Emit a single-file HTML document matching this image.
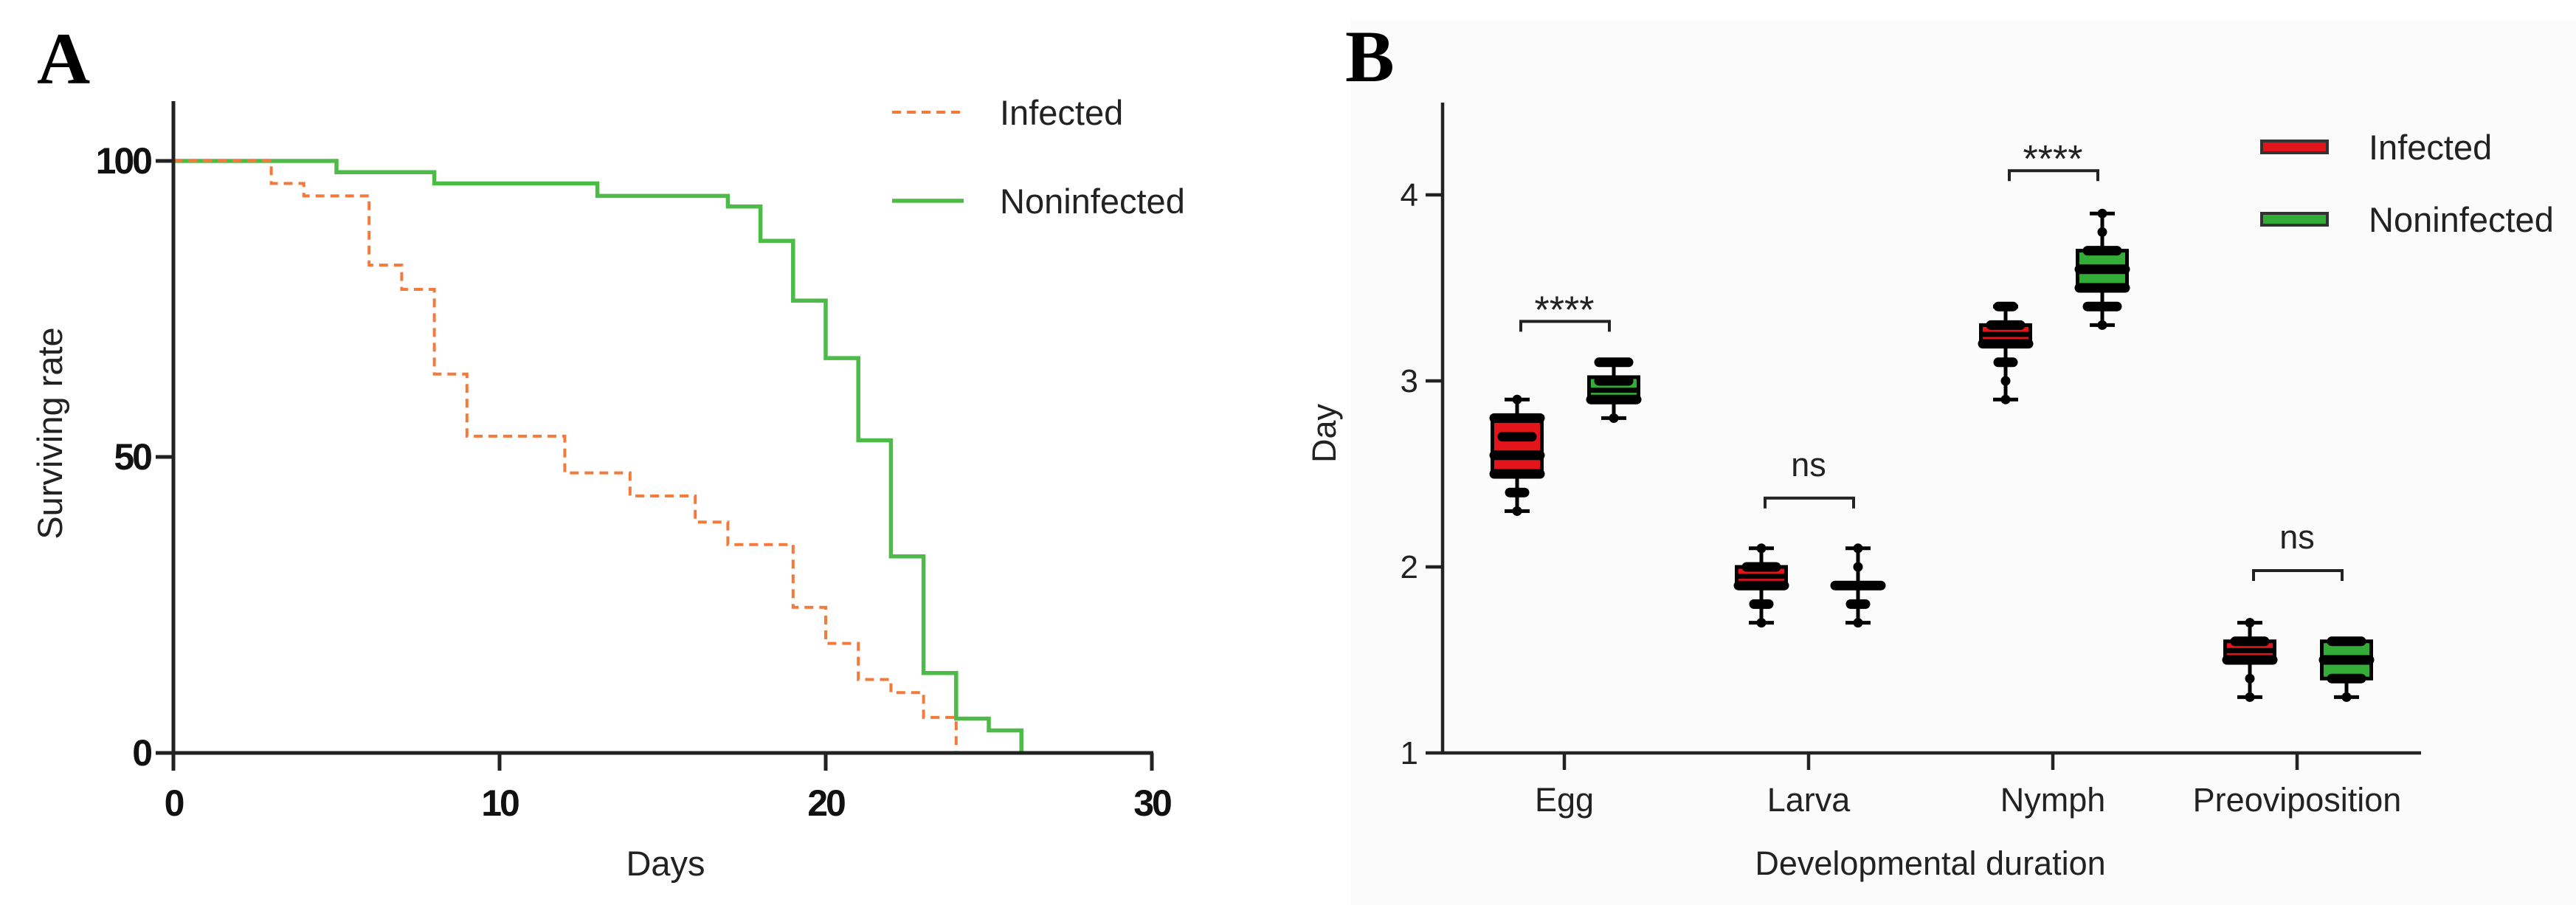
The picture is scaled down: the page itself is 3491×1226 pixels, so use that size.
<!DOCTYPE html>
<html><head><meta charset="utf-8"><style>
html,body{margin:0;padding:0;background:#fff;overflow:hidden}
svg{display:block}
text{font-family:"Liberation Sans",sans-serif}
text.serif{font-family:"Liberation Serif",serif}
</style></head><body>
<svg id="fig" width="3491" height="1226" viewBox="0 0 3491 1226" xmlns="http://www.w3.org/2000/svg">
<rect x="0" y="0" width="3491" height="1226" fill="#ffffff"/>
<rect x="1830" y="28" width="1661" height="1198" fill="#fbfbfb"/>
<g id="pa"></g>
<g id="pb"></g>
</svg>
<script>
// ---------- Panel A data ----------
const aDaysInf = [0,3,4,6,7,8,9,12,14,16,17,19,20,21,22,23,24];
const aSurvInf = [100,96.2,94.1,82.4,78.3,64,53.5,47.3,43.4,39,35.2,24.6,18.5,12.4,10.2,6,0];
const aDaysNon = [0,5,8,13,17,18,19,20,21,22,23,24,25,26];
const aSurvNon = [100,98.1,96.2,94.1,92.3,86.5,76.4,66.7,52.8,33.2,13.5,5.8,3.8,0];
const aXTicks = [0,10,20,30];
const aYTicks = [0,50,100];

// ---------- Panel B data ----------
const bCategories = ["Egg","Larva","Nymph","Preoviposition"];
const bInfMin = [2.3,1.7,2.9,1.3];
const bInfQ1  = [2.5,1.9,3.2,1.5];
const bInfMed = [2.6,1.95,3.25,1.55];
const bInfQ3  = [2.8,2.0,3.3,1.6];
const bInfMax = [2.9,2.1,3.4,1.7];
const bNonMin = [2.8,1.7,3.3,1.3];
const bNonQ1  = [2.9,1.9,3.5,1.4];
const bNonMed = [2.95,1.9,3.6,1.5];
const bNonQ3  = [3.02,1.9,3.7,1.6];
const bNonMax = [3.1,2.1,3.9,1.6];
const bInfPts = [[2.3,2.4,2.5,2.6,2.7,2.8,2.9],[1.7,1.8,1.9,2.0,2.1],[2.9,3.0,3.1,3.2,3.3,3.4],[1.3,1.4,1.5,1.6,1.7]];
const bNonPts = [[2.8,2.9,3.0,3.1],[1.7,1.8,1.9,2.0,2.1],[3.3,3.4,3.5,3.6,3.7,3.8,3.9],[1.3,1.4,1.5,1.6]];
const bInfRowW = [[1,2,4,4,3,4,1],[1,2,4,3,1],[1,1,2,4,3,2],[1,1,4,3,1]];
const bNonRowW = [[1,4,3,3],[1,2,4,1,1],[1,3,4,4,3,1,1],[1,3,4,3]];
const bSigLabels = ["****","ns","****","ns"];
const bSigLevels = [3.32,2.37,4.13,1.98];
const bYTicks = [1,2,3,4];

const NS="http://www.w3.org/2000/svg";
function mk(parent,tag,attrs,txt){const e=document.createElementNS(NS,tag);for(const k in attrs)e.setAttribute(k,attrs[k]);if(txt!==undefined)e.textContent=txt;parent.appendChild(e);return e;}

// ---------- Panel A ----------
const pa=document.getElementById('pa');
const ax=d=>235+(d/30)*(1561-235);
const ay=v=>1020-(v/100)*(1020-218);
let t=mk(pa,'text',{x:50,y:113,'font-size':100,'font-weight':'bold','class':'serif'},'A');


function stepPath(xs,ys){let d=`M${ax(xs[0])},${ay(ys[0])}`;for(let i=1;i<xs.length;i++){d+=` H${ax(xs[i])} V${ay(ys[i])}`;}return d;}
let p=mk(pa,'path',{d:stepPath(aDaysNon,aSurvNon),fill:'none',stroke:'#4cbb47','stroke-width':5.5});


p=mk(pa,'path',{d:stepPath(aDaysInf,aSurvInf),fill:'none',stroke:'#f47a3c','stroke-width':4,'stroke-dasharray':'12,8'});


let l=mk(pa,'line',{x1:235,y1:137,x2:235,y2:1020,stroke:'#222','stroke-width':5});


l=mk(pa,'line',{x1:235,y1:1020,x2:1563,y2:1020,stroke:'#222','stroke-width':5});


aYTicks.forEach(v=>{
  const y=ay(v);
  mk(pa,'line',{x1:211,y1:y,x2:235,y2:y,stroke:'#222','stroke-width':5});
  const tt=mk(pa,'text',{x:204,y:y+17,'font-size':50,'font-weight':'bold','text-anchor':'end',fill:'#111','letter-spacing':-3},String(v));
  
  
});
aXTicks.forEach(v=>{
  const x=ax(v);
  mk(pa,'line',{x1:x,y1:1020,x2:x,y2:1044,stroke:'#222','stroke-width':5});
  const tt=mk(pa,'text',{x:x,y:1105,'font-size':50,'font-weight':'bold','text-anchor':'middle',fill:'#111','letter-spacing':-3},String(v));
  
  
});
t=mk(pa,'text',{x:902,y:1186,'font-size':47,'text-anchor':'middle',fill:'#222'},'Days');


t=mk(pa,'text',{x:0,y:0,'font-size':47,'text-anchor':'middle',fill:'#222',transform:'translate(84,587) rotate(-90)'},'Surviving rate');


l=mk(pa,'line',{x1:1209,y1:152,x2:1306,y2:152,stroke:'#f47a3c','stroke-width':4,'stroke-dasharray':'12,8'});


t=mk(pa,'text',{x:1355,y:169,'font-size':47,fill:'#222'},'Infected');


l=mk(pa,'line',{x1:1209,y1:272,x2:1306,y2:272,stroke:'#4cbb47','stroke-width':5.5});


t=mk(pa,'text',{x:1355,y:289,'font-size':47,fill:'#222'},'Noninfected');



// ---------- Panel B ----------
const pb=document.getElementById('pb');
const by=v=>1020-(v-1)*252;
const bx=i=>2120+i*331;
t=mk(pb,'text',{x:1823,y:110,'font-size':100,'font-weight':'bold','class':'serif'},'B');


l=mk(pb,'line',{x1:1955,y1:139,x2:1955,y2:1020,stroke:'#222','stroke-width':4.5});


l=mk(pb,'line',{x1:1955,y1:1020,x2:3281,y2:1020,stroke:'#222','stroke-width':4.5});


bYTicks.forEach(v=>{
  const y=by(v);
  mk(pb,'line',{x1:1932,y1:y,x2:1955,y2:y,stroke:'#222','stroke-width':4.5});
  const tt=mk(pb,'text',{x:1922,y:y+15,'font-size':44,'text-anchor':'end',fill:'#222'},String(v));
  
  
});
function drawBox(cx,mn,q1,md,q3,mx,pts,rw,color,name){
  const g=mk(pb,'g',{});
  
  
  const w=67;
  mk(g,'line',{x1:cx,y1:by(mx),x2:cx,y2:by(mn),stroke:'#000','stroke-width':5});
  mk(g,'line',{x1:cx-17,y1:by(mx),x2:cx+17,y2:by(mx),stroke:'#000','stroke-width':5});
  mk(g,'line',{x1:cx-17,y1:by(mn),x2:cx+17,y2:by(mn),stroke:'#000','stroke-width':5});
  mk(g,'rect',{x:cx-w/2,y:by(q3),width:w,height:Math.max(by(q1)-by(q3),2),fill:color,stroke:'#000','stroke-width':5});
  mk(g,'line',{x1:cx-w/2,y1:by(md),x2:cx+w/2,y2:by(md),stroke:'#000','stroke-width':7});
  pts.forEach((v,k)=>{
    const n=rw[k];const half=n>1?(n===2?10:(n===3?20:31)):0;
    mk(g,'line',{x1:cx-half,y1:by(v),x2:cx+half,y2:by(v),stroke:'#000','stroke-width':13,'stroke-linecap':'round'});
  });
}
bCategories.forEach((c,i)=>{
  const x=bx(i);
  mk(pb,'line',{x1:x,y1:1020,x2:x,y2:1043,stroke:'#222','stroke-width':4.5});
  const tt=mk(pb,'text',{x:x,y:1099,'font-size':45,'text-anchor':'middle',fill:'#222'},c);
  
  
  drawBox(x-64,bInfMin[i],bInfQ1[i],bInfMed[i],bInfQ3[i],bInfMax[i],bInfPts[i],bInfRowW[i],'#e3151a','box-infected');
  drawBox(x+67,bNonMin[i],bNonQ1[i],bNonMed[i],bNonQ3[i],bNonMax[i],bNonPts[i],bNonRowW[i],'#34ad38','box-noninfected');
  const sy=by(bSigLevels[i]);
  const br=mk(pb,'path',{d:`M${x-59},${sy+14} V${sy} H${x+61} V${sy+14}`,fill:'none',stroke:'#222','stroke-width':4});
  
  
  const isNs=bSigLabels[i]==='ns';
  const st=mk(pb,'text',{x:x,y:isNs?sy-30:sy+2,'font-size':isNs?45:52,'text-anchor':'middle',fill:'#222'},bSigLabels[i]);
  
  
});
t=mk(pb,'text',{x:2616,y:1185,'font-size':45,'text-anchor':'middle',fill:'#222'},'Developmental duration');


t=mk(pb,'text',{x:0,y:0,'font-size':45,'text-anchor':'middle',fill:'#222',transform:'translate(1810,587) rotate(-90)'},'Day');


let r=mk(pb,'rect',{x:3065,y:191,width:89,height:16,fill:'#e3151a',stroke:'#333','stroke-width':4});


t=mk(pb,'text',{x:3210,y:216,'font-size':47,fill:'#222'},'Infected');


r=mk(pb,'rect',{x:3065,y:289,width:89,height:16,fill:'#34ad38',stroke:'#333','stroke-width':4});


t=mk(pb,'text',{x:3210,y:314,'font-size':47,fill:'#222'},'Noninfected');


</script>
</body></html>
